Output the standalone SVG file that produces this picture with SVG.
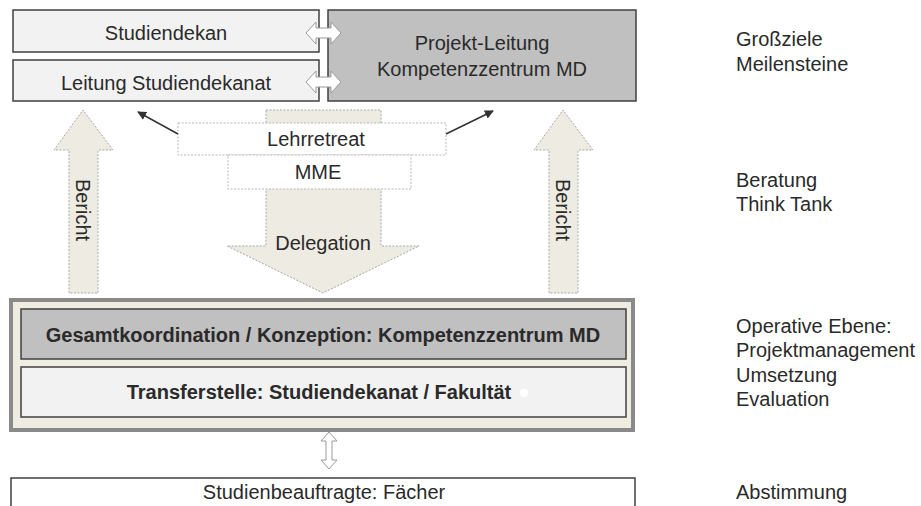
<svg xmlns="http://www.w3.org/2000/svg" width="921" height="506" viewBox="0 0 921 506">
<style>
text{font-family:"Liberation Sans",Arial,sans-serif;font-size:20px;fill:#2a2a2a;text-anchor:middle}
.lbl{text-anchor:start}
.b{font-weight:bold}
.light{fill:#f2f2f2;stroke:#404040;stroke-width:1.5}
.dark{fill:#c0c0c0;stroke:#404040;stroke-width:1.5}
.beige{fill:#eeebe3;stroke:#a8a8a8;stroke-width:1;stroke-dasharray:2 1.5}
.dash{fill:#ffffff;stroke:#b8b8b8;stroke-width:1;stroke-dasharray:2 1.5}
.dbl{fill:#ffffff;stroke:#9a9a9a;stroke-width:1}
.thin{stroke:#333333;stroke-width:1.5;fill:none;marker-end:url(#ah)}
</style>
<defs>
<marker id="ah" viewBox="0 0 10 10" refX="9" refY="5" markerWidth="6" markerHeight="6" orient="auto" markerUnits="strokeWidth">
<path d="M0,0 L10,5 L0,10 z" fill="#333333"/>
</marker>
</defs>
<rect width="921" height="506" fill="#ffffff"/>

<g id="flows">
<g id="bericht-left">
<polygon class="beige" points="69,293 69,150 54,150 83,110 113,150 98,150 98,293"/>
<text x="83" y="210" transform="rotate(90 83 210)" dy="7">Bericht</text>
</g>
<g id="bericht-right">
<polygon class="beige" points="549,293 549,150 534,150 563,110 593,150 578,150 578,293"/>
<text x="563" y="210" transform="rotate(90 563 210)" dy="7">Bericht</text>
</g>
<g id="delegation">
<polygon class="beige" points="266,110 381,110 381,246 419,246 323,293 227,246 266,246"/>
<text x="323" y="250">Delegation</text>
</g>
</g>

<g id="studiendekan">
<rect class="light" x="13" y="10" width="306" height="42"/>
<text x="166" y="40">Studiendekan</text>
</g>
<g id="leitung-studiendekanat">
<rect class="light" x="13" y="60" width="306" height="41"/>
<text x="166" y="90">Leitung Studiendekanat</text>
</g>
<g id="projekt-leitung">
<rect class="dark" x="328" y="10" width="308" height="91"/>
<text x="482" y="50">Projekt-Leitung</text>
<text x="482" y="76">Kompetenzzentrum MD</text>
</g>

<g id="lehrretreat">
<rect class="dash" x="178" y="123" width="268" height="32"/>
<text x="316" y="146">Lehrretreat</text>
</g>
<g id="mme">
<rect class="dash" x="228" y="155" width="183" height="34"/>
<text x="318" y="179">MME</text>
</g>

<g id="operative">
<rect x="11" y="300" width="622" height="130" fill="#efece2" stroke="#8a8a8a" stroke-width="4"/>
</g>
<g id="gesamtkoordination">
<rect class="dark" x="21" y="309" width="605" height="50"/>
<text class="b" x="323" y="342">Gesamtkoordination / Konzeption: Kompetenzzentrum MD</text>
</g>
<g id="transferstelle">
<rect class="light" x="21" y="367" width="605" height="50"/>
<text class="b" x="319" y="399">Transferstelle: Studiendekanat / Fakultät</text>
<circle cx="524" cy="393" r="4" fill="#ffffff"/>
</g>

<g id="studienbeauftragte">
<rect x="11" y="478" width="624" height="40" fill="#ffffff" stroke="#404040" stroke-width="1.5"/>
<text x="324" y="499">Studienbeauftragte: Fächer</text>
</g>

<g id="connectors">
<path class="dbl" d="M306,33 L316,22 L316,28 L331,28 L331,22 L341,33 L331,44 L331,38 L316,38 L316,44 Z"/>
<path class="dbl" d="M306,82 L316,71 L316,77 L331,77 L331,71 L341,82 L331,93 L331,87 L316,87 L316,93 Z"/>
<path class="dbl" d="M329,432 L337,441 L332,441 L332,460 L337,460 L329,469 L321,460 L326,460 L326,441 L321,441 Z"/>
<line class="thin" x1="178" y1="134" x2="138" y2="112"/>
<line class="thin" x1="446" y1="134" x2="493" y2="111"/>
</g>

<g id="labels">
<text class="lbl" x="736" y="46">Großziele</text>
<text class="lbl" x="736" y="71">Meilensteine</text>
<text class="lbl" x="736" y="187">Beratung</text>
<text class="lbl" x="736" y="211">Think Tank</text>
<text class="lbl" x="736" y="333">Operative Ebene:</text>
<text class="lbl" x="736" y="357">Projektmanagement</text>
<text class="lbl" x="736" y="382">Umsetzung</text>
<text class="lbl" x="736" y="406">Evaluation</text>
<text class="lbl" x="736" y="499">Abstimmung</text>
</g>
</svg>
